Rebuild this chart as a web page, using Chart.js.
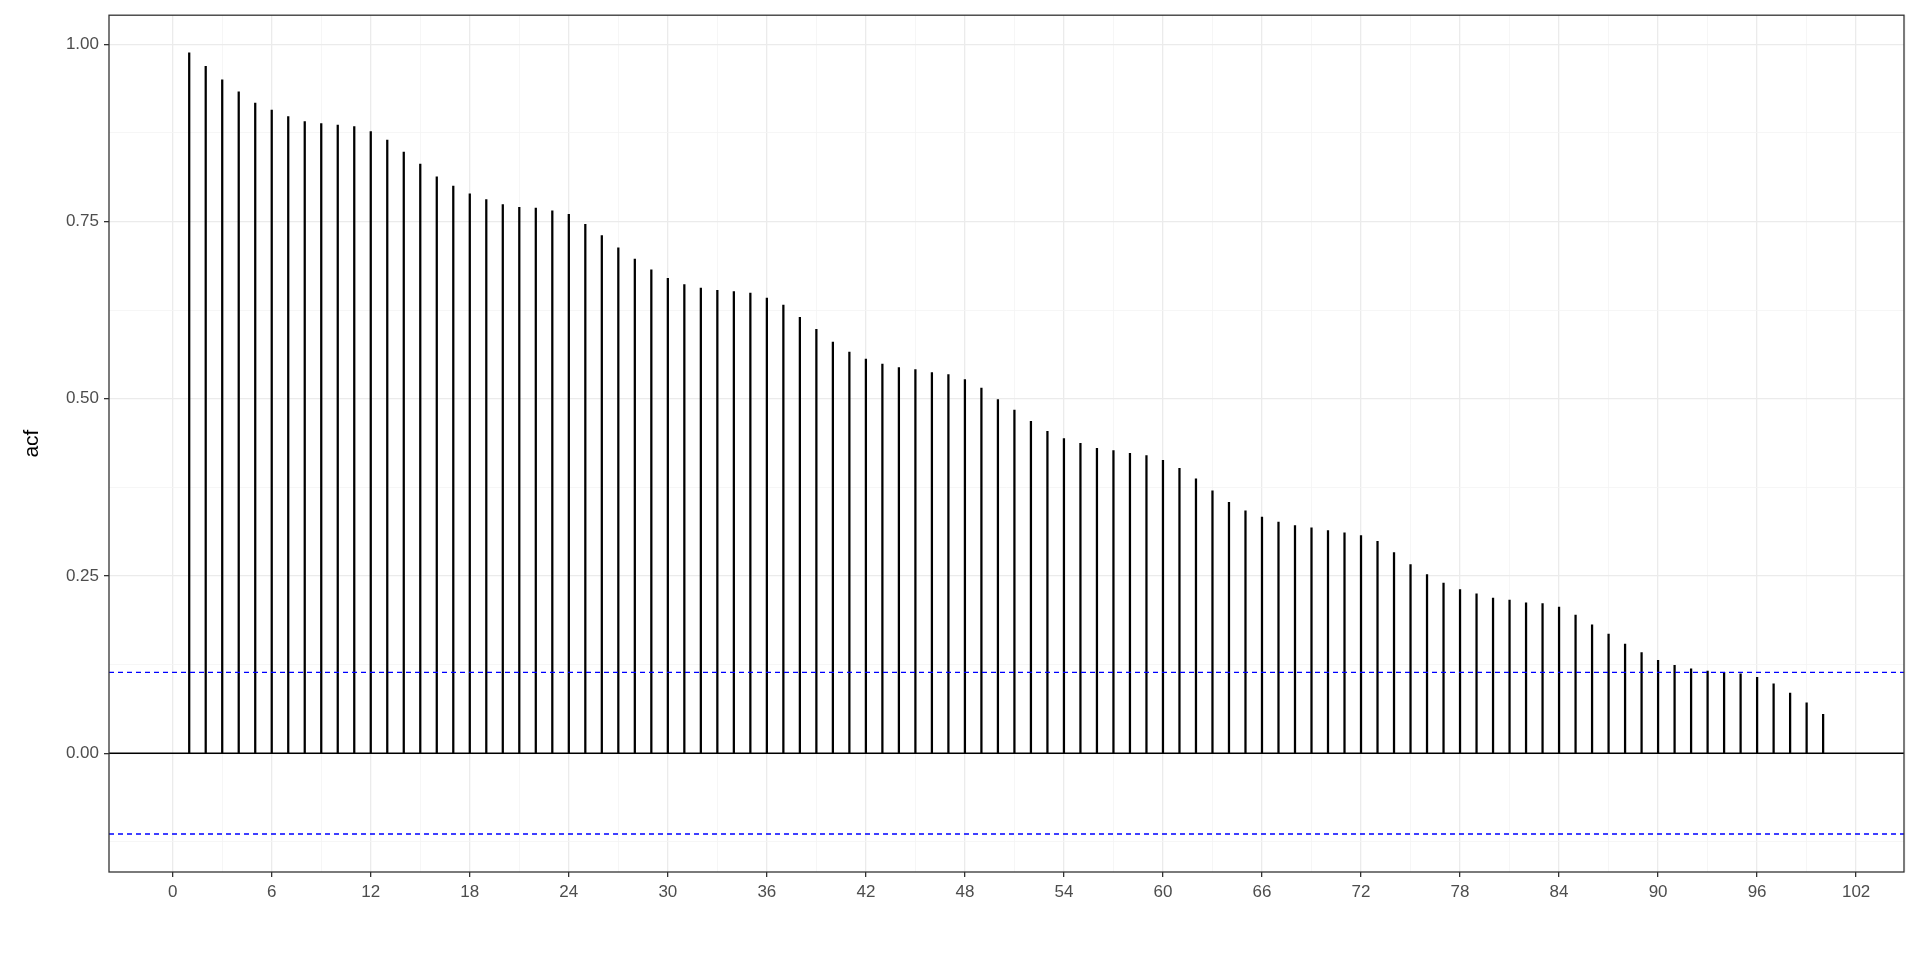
<!DOCTYPE html>
<html><head><meta charset="utf-8">
<script src="https://cdn.jsdelivr.net/npm/chart.js@4"></script>
<style>html,body{margin:0;padding:0;background:#fff}#w{width:1920px;height:960px}</style>
</head><body><div id="w"><canvas id="c"></canvas></div>
<script>
const lags = Array.from({length:100},(_,i)=>i+1);
const acf = [.988,.969,.95,.933,.917,.907,.898,.891,.888,.886,.884,.877,.865,.848,.831,.813,.80,.789,.781,.774,
.77,.769,.765,.76,.746,.73,.713,.697,.682,.67,.661,.656,.653,.651,.649,.642,.632,.615,.598,.58,
.566,.556,.549,.544,.541,.537,.534,.527,.515,.499,.484,.468,.454,.444,.437,.43,.427,.423,.42,.413,
.402,.387,.37,.354,.342,.333,.326,.321,.318,.314,.311,.307,.299,.283,.266,.252,.24,.231,.225,.219,
.216,.212,.211,.206,.195,.181,.168,.154,.142,.131,.124,.119,.116,.114,.112,.107,.098,.085,.071,.055];
const ciBound = 0.114;
const xTicks = Array.from({length:36},(_,i)=>i*3).filter(v=>v<=105);
const yTicks = [-0.125,0,0.125,0.25,0.375,0.5,0.625,0.75,0.875,1.0];
const X0=-3.86, X1=104.9;

const border = {id:'border',afterDraw(ch){const a=ch.chartArea,c=ch.ctx;c.save();c.strokeStyle='#333';c.lineWidth=1.3;c.strokeRect(a.left,a.top,a.right-a.left,a.bottom-a.top);c.restore();}};
const isMajY = v=>Math.abs(v*4-Math.round(v*4))<1e-9;

new Chart(document.getElementById('c'),{
  type:'bar',
  data:{datasets:[
    {type:'bar',data:lags.map((l,i)=>({x:l,y:acf[i]})),backgroundColor:'#000',barThickness:1.6,order:2},
    {type:'line',data:[{x:X0,y:0},{x:X1,y:0}],borderColor:'#000',borderWidth:1.6,pointRadius:0,order:1},
    {type:'line',data:[{x:X0,y:ciBound},{x:X1,y:ciBound}],borderColor:'#0000ff',borderWidth:1.4,borderDash:[5,4],pointRadius:0,order:0},
    {type:'line',data:[{x:X0,y:-ciBound},{x:X1,y:-ciBound}],borderColor:'#0000ff',borderWidth:1.4,borderDash:[5,4],pointRadius:0,order:0}
  ]},
  options:{responsive:true,maintainAspectRatio:false,animation:false,
    layout:{padding:{top:15,right:16,left:0,bottom:0}},
    plugins:{legend:{display:false},tooltip:{enabled:false}},
    scales:{
      x:{type:'linear',min:X0,max:X1,offset:false,
        afterBuildTicks(s){s.ticks=xTicks.map(v=>({value:v}));},
        afterFit(s){s.height=88;},
        ticks:{autoSkip:false,maxRotation:0,color:'#4d4d4d',font:{family:'Liberation Sans, Arial',size:17},padding:5,
          callback:v=>v%6===0?String(v):''},
        grid:{offset:false,color:c=>c.tick&&c.tick.value%6===0?'#ebebeb':'#f4f4f4',lineWidth:c=>c.tick&&c.tick.value%6===0?1.3:0.8,
          drawTicks:true,tickLength:5,tickColor:c=>c.tick&&c.tick.value%6===0?'#333':'rgba(0,0,0,0)'},
        border:{display:false}},
      y:{type:'linear',min:-0.1675,max:1.041,
        afterBuildTicks(s){s.ticks=yTicks.map(v=>({value:v}));},
        afterFit(s){s.width=109;},
        ticks:{autoSkip:false,color:'#4d4d4d',font:{family:'Liberation Sans, Arial',size:17},padding:5,
          callback:v=>isMajY(v)?v.toFixed(2):''},
        grid:{color:c=>c.tick&&isMajY(c.tick.value)?'#ebebeb':'#f4f4f4',
          lineWidth:c=>c.tick&&isMajY(c.tick.value)?1.3:0.8,
          tickLength:5,tickColor:c=>c.tick&&isMajY(c.tick.value)?'#333':'rgba(0,0,0,0)'},
        border:{display:false},
        title:{display:true,text:'acf',color:'#000',font:{family:'Liberation Sans, Arial',size:21},padding:{top:20,bottom:8}}}
    }},
  plugins:[border]
});
</script></body></html>
